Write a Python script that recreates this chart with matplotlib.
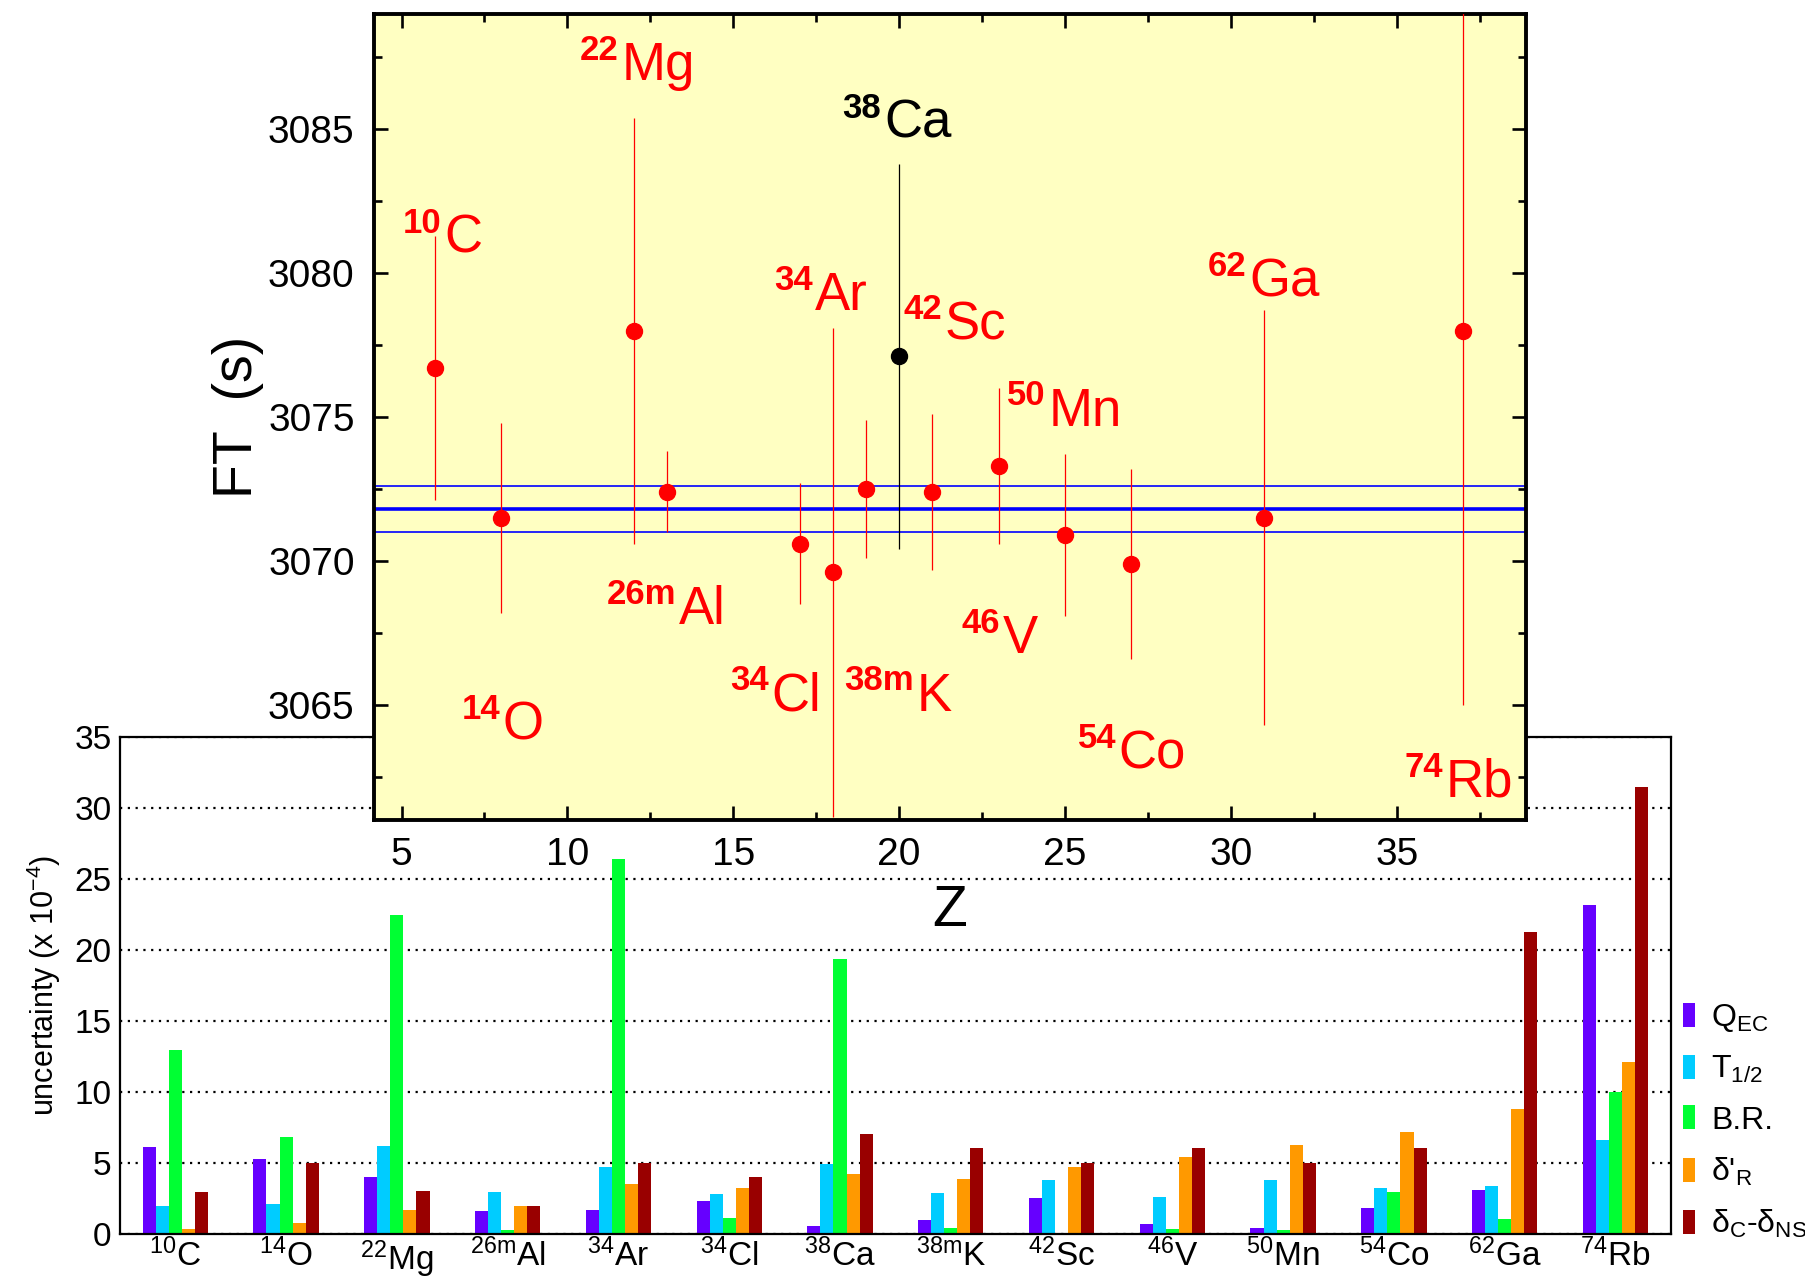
import matplotlib.pyplot as plt
import numpy as np

plt.rcParams['mathtext.fontset'] = 'custom'
plt.rcParams['mathtext.rm'] = 'Liberation Sans'
plt.rcParams['mathtext.it'] = 'Liberation Sans:italic'
plt.rcParams['mathtext.bf'] = 'Liberation Sans:bold'

FONT = ['Liberation Sans', 'DejaVu Sans']

# nuclides, in the order of the bar chart
mass = ['10', '14', '22', '26m', '34', '34', '38', '38m', '42', '46', '50', '54', '62', '74']
element = ['C', 'O', 'Mg', 'Al', 'Ar', 'Cl', 'Ca', 'K', 'Sc', 'V', 'Mn', 'Co', 'Ga', 'Rb']
z_vals = [6, 8, 12, 13, 18, 17, 20, 19, 21, 23, 25, 27, 31, 37]
ft_vals = [3076.7, 3071.5, 3078.0, 3072.4, 3069.6, 3070.6, 3077.1,
           3072.5, 3072.4, 3073.3, 3070.9, 3069.9, 3071.5, 3078.0]
ft_err = [4.6, 3.3, 7.4, 1.4, 8.5, 2.1, 6.7, 2.4, 2.7, 2.7, 2.8, 3.3, 7.2, 13.0]
ft_mean = 3071.8
ft_mean_err = 0.8

# name anchors in the top panel: left edge of the symbol, on its baseline (Z, Ft)
label_x = [6.23, 7.99, 11.56, 13.30, 17.41, 16.09, 19.48, 20.45, 21.32, 23.06, 24.44, 26.56, 30.49, 36.42]
label_y = [3080.7, 3063.8, 3086.7, 3067.8, 3078.7, 3064.8, 3084.7,
           3064.8, 3077.7, 3066.8, 3074.7, 3062.8, 3079.2, 3061.8]

# uncertainty budget (x 1e-4)
q_ec = [6.1, 5.3, 4.0, 1.65, 1.7, 2.35, 0.58, 1.0, 2.55, 0.68, 0.45, 1.83, 3.13, 23.2]
t_half = [1.95, 2.1, 6.2, 2.95, 4.7, 2.85, 4.95, 2.9, 3.8, 2.58, 3.83, 3.25, 3.4, 6.63]
branch = [12.95, 6.83, 22.5, 0.28, 26.4, 1.15, 19.4, 0.43, 0.05, 0.38, 0.3, 2.98, 1.08, 10.03]
delta_r = [0.38, 0.8, 1.7, 2.0, 3.55, 3.25, 4.25, 3.9, 4.75, 5.45, 6.28, 7.18, 8.83, 12.13]
delta_c = [2.95, 5.03, 3.0, 2.0, 5.03, 4.0, 7.03, 6.03, 5.03, 6.03, 5.03, 6.03, 21.3, 31.5]

series = [q_ec, t_half, branch, delta_r, delta_c]
series_names = [r'Q$_{\mathrm{EC}}$', r'T$_{\mathrm{1/2}}$', 'B.R.',
                "δ'$_{\\mathrm{R}}$", r'δ$_{\mathrm{C}}$-δ$_{\mathrm{NS}}$']
colors = ['#6600ff', '#00ccff', '#00ff33', '#ff9900', '#990000']

fig = plt.figure(figsize=(18.06, 12.77), dpi=100)

# ---- bottom: uncertainty bars ----
ax2 = fig.add_axes([0.0664, 0.0337, 0.8588, 0.389])
pos = np.arange(len(mass))
w = 0.118
for i, (vals, c, name) in enumerate(zip(series, colors, series_names)):
    ax2.bar(pos + (i - 2) * w, vals, width=w, color=c, label=name, linewidth=0)
ax2.set_xlim(-0.5, 13.5)
ax2.set_ylim(0, 35)
ax2.set_yticks(range(0, 36, 5))
ax2.set_xticks(pos)
ax2.set_xticklabels([r'$^{\mathrm{%s}}$%s' % (m, e) for m, e in zip(mass, element)],
                    fontsize=24, family=FONT)
for lab in ax2.get_yticklabels():
    lab.set_family(FONT)
ax2.tick_params(axis='both', length=0, labelsize=24)
ax2.tick_params(axis='x', pad=3)
ax2.tick_params(axis='y', pad=6)
ax2.set_axisbelow(True)
ax2.yaxis.grid(True, linestyle=(0, (1, 2.5)), color='black', linewidth=1.6)
for s in ax2.spines.values():
    s.set_linewidth(1.6)
ax2.set_ylabel(r'uncertainty (x 10$^{-4}$)', fontsize=22, family=FONT, labelpad=8)

fig.legend(loc='lower left', bbox_to_anchor=(0.932, 0.029), frameon=False,
           prop={'family': FONT, 'size': 23}, handlelength=0.38,
           handleheight=0.78, handletextpad=0.5, labelspacing=0.63,
           borderpad=0, borderaxespad=0)

# ---- top: Ft values ----
ax1 = fig.add_axes([0.2071, 0.3579, 0.6379, 0.6312])
ax1.set_facecolor('#ffffc2')
ax1.set_xlim(4.17, 38.9)
ax1.set_ylim(3061.0, 3089.0)

ax1.axhspan(ft_mean - ft_mean_err, ft_mean + ft_mean_err, fill=False,
            edgecolor='#0000ff', linewidth=1.2, zorder=2)
ax1.axhline(ft_mean, color='#0000ff', linewidth=2.6, zorder=2)

for i in range(len(mass)):
    col = 'black' if element[i] == 'Ca' else 'red'
    ax1.errorbar(z_vals[i], ft_vals[i], yerr=ft_err[i], fmt='o', color=col,
                 markersize=11.5, elinewidth=0.9, capsize=0, zorder=3)
    ax1.annotate(element[i], (label_x[i], label_y[i]), xytext=(1.5, 0),
                 textcoords='offset points', color=col, fontsize=38,
                 family=FONT, ha='left', va='baseline')
    ax1.annotate(mass[i], (label_x[i], label_y[i]), xytext=(-0.5, 14.5),
                 textcoords='offset points', color=col, fontsize=25,
                 family=FONT, fontweight='bold', ha='right', va='baseline')

ax1.set_xticks(range(5, 40, 5))
ax1.set_xticks(np.arange(7.5, 39, 5), minor=True)
ax1.set_yticks(range(3065, 3089, 5))
ax1.set_yticks(np.arange(3062.5, 3089, 5), minor=True)
ax1.tick_params(which='both', direction='in', top=True, right=True, width=1.9,
                labelsize=28)
ax1.tick_params(axis='x', which='both', pad=12)
ax1.tick_params(axis='y', which='both', pad=14)
ax1.tick_params(which='major', length=10)
ax1.tick_params(which='minor', length=6)
for lab in ax1.get_xticklabels() + ax1.get_yticklabels():
    lab.set_family(FONT)
for s in ax1.spines.values():
    s.set_linewidth(2.8)
ax1.set_xlabel('Z', fontsize=41, family=FONT, labelpad=8)
ax1.set_ylabel('FT  (s)', fontsize=40, family=FONT, labelpad=3)

fig.savefig('out.png', dpi=100)
